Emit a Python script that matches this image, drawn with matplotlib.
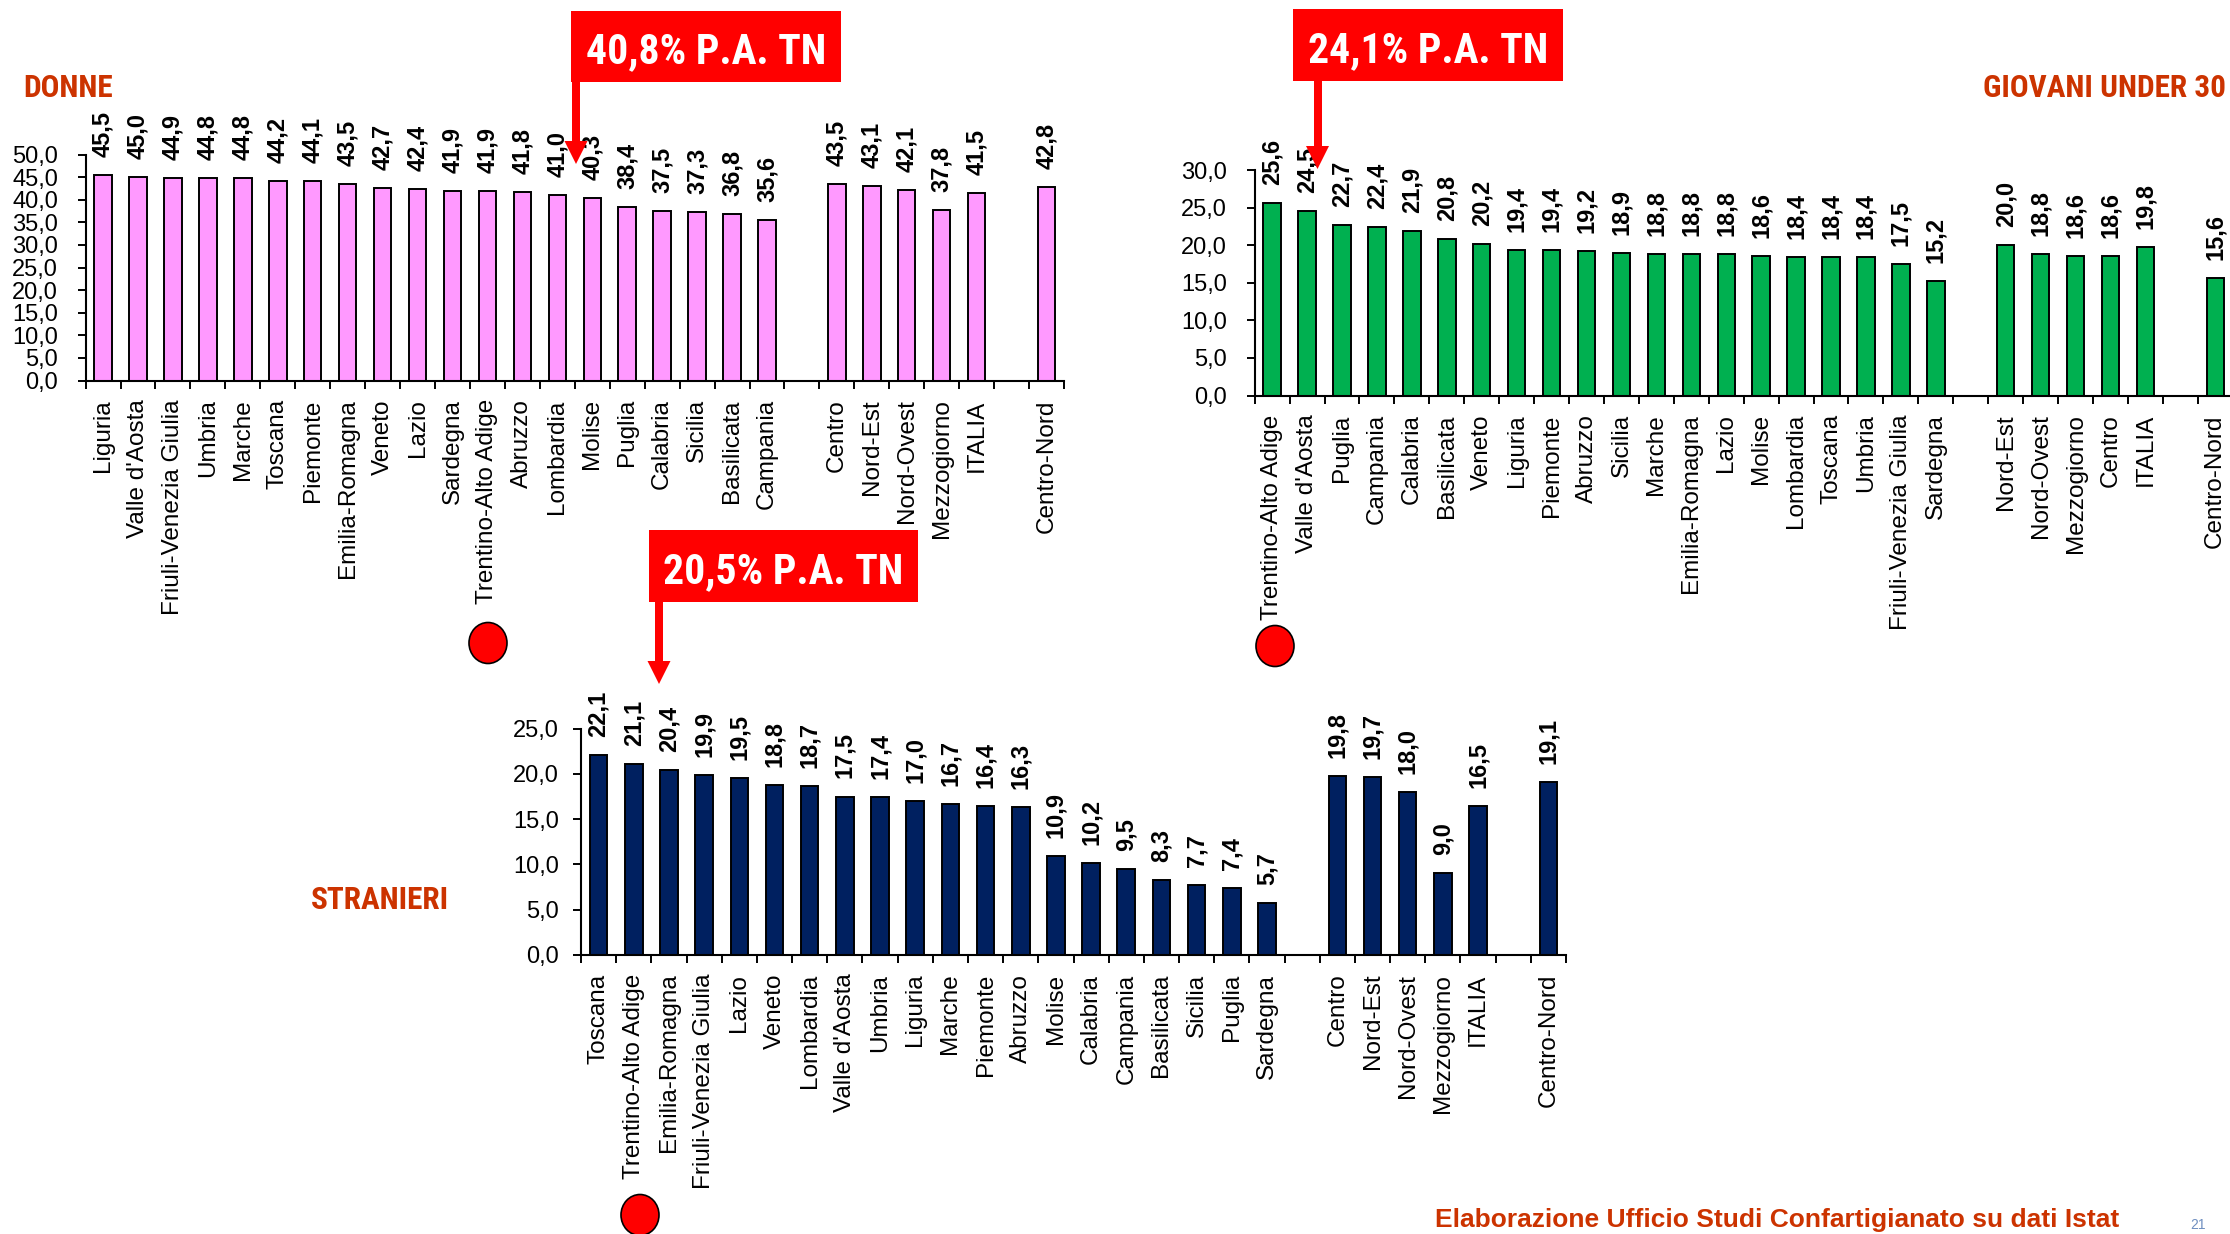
import matplotlib
matplotlib.use("Agg")
import matplotlib.pyplot as plt
from matplotlib import font_manager
from matplotlib.patches import Rectangle, Polygon, Ellipse
from matplotlib.transforms import Affine2D
import numpy as np

W, H = 2230, 1234

# --- data -------------------------------------------------------------
donne_cat = ["Liguria", "Valle d'Aosta", "Friuli-Venezia Giulia", "Umbria", "Marche",
             "Toscana", "Piemonte", "Emilia-Romagna", "Veneto", "Lazio", "Sardegna",
             "Trentino-Alto Adige", "Abruzzo", "Lombardia", "Molise", "Puglia",
             "Calabria", "Sicilia", "Basilicata", "Campania",
             "Centro", "Nord-Est", "Nord-Ovest", "Mezzogiorno", "ITALIA", "Centro-Nord"]
donne_val = [45.5, 45.0, 44.9, 44.8, 44.8, 44.2, 44.1, 43.5, 42.7, 42.4, 41.9, 41.9, 41.8,
             41.0, 40.3, 38.4, 37.5, 37.3, 36.8, 35.6,
             43.5, 43.1, 42.1, 37.8, 41.5, 42.8]

giovani_cat = ["Trentino-Alto Adige", "Valle d'Aosta", "Puglia", "Campania", "Calabria",
               "Basilicata", "Veneto", "Liguria", "Piemonte", "Abruzzo", "Sicilia", "Marche",
               "Emilia-Romagna", "Lazio", "Molise", "Lombardia", "Toscana", "Umbria",
               "Friuli-Venezia Giulia", "Sardegna",
               "Nord-Est", "Nord-Ovest", "Mezzogiorno", "Centro", "ITALIA", "Centro-Nord"]
giovani_val = [25.6, 24.5, 22.7, 22.4, 21.9, 20.8, 20.2, 19.4, 19.4, 19.2, 18.9, 18.8, 18.8,
               18.8, 18.6, 18.4, 18.4, 18.4, 17.5, 15.2,
               20.0, 18.8, 18.6, 18.6, 19.8, 15.6]

stranieri_cat = ["Toscana", "Trentino-Alto Adige", "Emilia-Romagna", "Friuli-Venezia Giulia",
                 "Lazio", "Veneto", "Lombardia", "Valle d'Aosta", "Umbria", "Liguria",
                 "Marche", "Piemonte", "Abruzzo", "Molise", "Calabria", "Campania",
                 "Basilicata", "Sicilia", "Puglia", "Sardegna",
                 "Centro", "Nord-Est", "Nord-Ovest", "Mezzogiorno", "ITALIA", "Centro-Nord"]
stranieri_val = [22.1, 21.1, 20.4, 19.9, 19.5, 18.8, 18.7, 17.5, 17.4, 17.0, 16.7, 16.4, 16.3,
                 10.9, 10.2, 9.5, 8.3, 7.7, 7.4, 5.7,
                 19.8, 19.7, 18.0, 9.0, 16.5, 19.1]

# slot positions: 20 regions, gap, 5 macro areas, gap, Centro-Nord
slot_x = list(range(20)) + list(range(21, 26)) + [27]

# --- fonts ------------------------------------------------------------
bold_names = {f.name for f in font_manager.fontManager.ttflist
              if isinstance(f.weight, int) and f.weight >= 700 or f.weight == "bold"}
NARROW = "Liberation Sans"
for cand in ["Liberation Sans Narrow", "Arial Narrow", "Archivo Narrow", "Roboto Condensed",
             "PT Sans Narrow", "IBM Plex Sans Condensed", "Open Sans Condensed"]:
    if cand in bold_names:
        NARROW = cand
        break
SANS = "Liberation Sans"
plt.rcParams["font.family"] = [SANS, "DejaVu Sans"]

TITLE_COL = "#CC3300"

fig = plt.figure(figsize=(W / 100, H / 100), dpi=100)
px = Affine2D().scale(1 / W, -1 / H).translate(0, 1) + fig.transFigure


def fmt(v):
    return f"{v:.1f}".replace(".", ",")


def draw_chart(left, right, base, top, cats, vals, color, ymax, ypad):
    ax = fig.add_axes([left / W, 1 - base / H, (right - left) / W, (base - top) / H])
    ax.bar(slot_x, vals, width=0.5, color=color, edgecolor="black", linewidth=1.4, zorder=2)
    for xi, v in zip(slot_x, vals):
        ax.annotate(fmt(v), (xi, v), xytext=(0, 13), textcoords="offset points",
                    rotation=90, ha="center", va="bottom", fontsize=17,
                    fontweight="bold", annotation_clip=False)
    ax.set_xlim(-0.5, 27.5)
    ax.set_ylim(0, ymax)
    ax.set_xticks(slot_x)
    ax.set_xticklabels(cats, rotation=90, fontsize=17.5)
    ax.set_xticks(np.arange(-0.5, 28, 1), minor=True)
    ax.tick_params(axis="x", which="major", length=0, pad=13.5)
    ax.tick_params(axis="x", which="minor", length=5.8, width=1.4, direction="out")
    yt = np.arange(0, ymax + 0.1, 5)
    ax.set_yticks(yt)
    ax.set_yticklabels([fmt(t) for t in yt], fontsize=17)
    ax.tick_params(axis="y", length=5.8, width=1.4, direction="out", pad=ypad)
    for s in ("top", "right"):
        ax.spines[s].set_visible(False)
    for s in ("left", "bottom"):
        ax.spines[s].set_linewidth(1.5)
    ax.patch.set_alpha(0)
    return ax


draw_chart(85.6, 1064, 380.5, 154.6, donne_cat, donne_val, "#FF99FF", 50, 14)
draw_chart(1254.7, 2232.7, 395.5, 170, giovani_cat, giovani_val, "#00B050", 30, 14)
draw_chart(581, 1566, 955, 728.6, stranieri_cat, stranieri_val, "#002060", 25, 10)

# --- section titles ---------------------------------------------------
fig.text(23 / W, 1 - 97 / H, "DONNE", color=TITLE_COL, fontsize=22.5,
         fontweight="bold", family=NARROW, ha="left", va="baseline")
fig.text(2226 / W, 1 - 97 / H, "GIOVANI UNDER 30", color=TITLE_COL, fontsize=22.5,
         fontweight="bold", family=NARROW, ha="right", va="baseline")
fig.text(311 / W, 1 - 909 / H, "STRANIERI", color=TITLE_COL, fontsize=22.5,
         fontweight="bold", family=NARROW, ha="left", va="baseline")

# --- red call-out boxes with arrows -----------------------------------
callouts = [
    # box x0, y0, x1, y1, text, arrow x, arrow tip y
    (571, 11, 841, 82, "40,8% P.A. TN", 576, 164),
    (1293, 9, 1563, 81, "24,1% P.A. TN", 1317.5, 169),
    (649, 530, 918, 602, "20,5% P.A. TN", 659, 684),
]
for x0, y0, x1, y1, txt, ax_x, tip in callouts:
    fig.add_artist(Rectangle((x0, y0), x1 - x0, y1 - y0, transform=px,
                             facecolor="#FF0000", edgecolor="none", zorder=5))
    fig.text((x0 + x1) / 2 / W, 1 - (y1 - 19) / H, txt, color="white", fontsize=30,
             fontweight="bold", family=NARROW, ha="center", va="baseline", zorder=6)
    fig.add_artist(Rectangle((ax_x - 4, y1 - 1), 8, tip - 22 - y1 + 1, transform=px,
                             facecolor="#FF0000", edgecolor="none", zorder=5))
    fig.add_artist(Polygon([(ax_x - 11.5, tip - 23), (ax_x + 11.5, tip - 23), (ax_x, tip)],
                           closed=True, transform=px, facecolor="#FF0000",
                           edgecolor="none", zorder=5))

# --- red markers next to Trentino-Alto Adige --------------------------
for cx, cy in [(488, 643), (1275, 646), (640, 1215)]:
    fig.add_artist(Ellipse((cx, cy), 38, 41, transform=px, facecolor="#FF0000",
                           edgecolor="black", linewidth=1.2, zorder=5))

# --- footer ---------------------------------------------------------------
fig.text(1435 / W, 1 - 1232 / H, "Elaborazione Ufficio Studi Confartigianato su dati Istat",
         color=TITLE_COL, fontsize=19, fontweight="bold", ha="left", va="bottom")
fig.text(2190 / W, 1 - 1232 / H, "21", color="#6F8FC0", fontsize=10, ha="left", va="bottom")

fig.savefig("out.png", dpi=100)
